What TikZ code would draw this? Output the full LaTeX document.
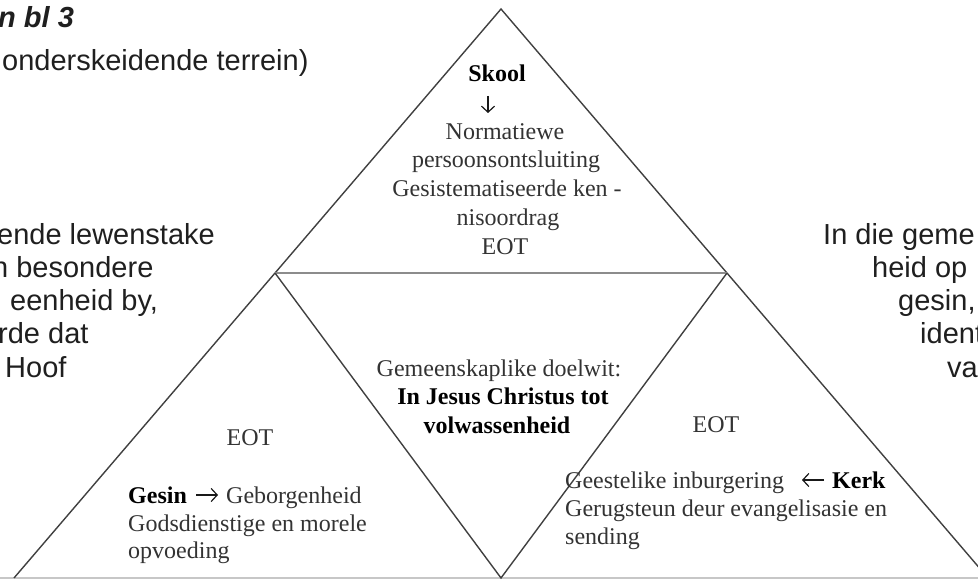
\documentclass[tikz,border=0pt]{standalone}
\usepackage{fontspec}
\usetikzlibrary{arrows.meta}
\newfontfamily\sansf{Liberation Sans}
\newfontfamily\serf{Liberation Serif}
\begin{document}
\begin{tikzpicture}[x=1pt,y=-1pt,
  edge/.style={draw=black!75, line width=1.4pt},
  midl/.style={draw=black!45, line width=1.8pt},
  baseln/.style={draw=black!22, line width=2pt},
  sans/.style={font=\sansf\fontsize{29}{34}\selectfont, text=black!88, inner sep=0pt, anchor=base west},
  ser/.style={font=\serf\fontsize{24}{28}\selectfont, text=black!80, inner sep=0pt, anchor=base},
  serl/.style={ser, anchor=base west},
  serb/.style={font=\serf\bfseries\fontsize{24}{28}\selectfont, text=black},
  txtarrow/.style={draw=black!90, line width=1.2pt, -{Straight Barb[length=6pt,width=13pt]}}]

\useasboundingbox (0,0) rectangle (978,580);
\clip (0,0) rectangle (978,580);

% triangle geometry
\coordinate (A) at (501,9);
\coordinate (L) at (275,273);
\coordinate (R) at (727,273);
\coordinate (BL) at (14,578);
\coordinate (BR) at (988,578);
\coordinate (M) at (501,578);
\coordinate (B0) at (0,578);
\coordinate (B1) at (978,578);

\draw[baseln] (B0) -- (B1);
\draw[edge, line join=miter] (BL) -- (A) -- (BR);
\draw[midl] (L) -- (R);
\draw[edge, line join=miter] (L) -- (M) -- (R);

% heading (cut at left edge)
\node[sans, font=\sansf\bfseries\itshape\fontsize{29}{34}\selectfont] (h1) at (-2,28) {n bl 3};
\node[sans] (h2) at (2,71) {onderskeidende terrein)};

% left text block (cut at left edge)
\node[sans] (l1) at (-3,245) {ende lewenstake};
\node[sans] (l2) at (-8,278) {n besondere};
\node[sans] (l3) at (10,311) {eenheid by,};
\node[sans] (l4) at (-2,344) {rde dat};
\node[sans] (l5) at (5,377) {Hoof};

% right text block (cut at right edge)
\node[sans] (r1) at (823,245) {In die geme};
\node[sans] (r2) at (872,278) {heid op};
\node[sans] (r3) at (898,311) {gesin,};
\node[sans] (r4) at (920,344) {ident};
\node[sans] (r5) at (947,377) {va};

% top triangle
\node[ser, serb] (skool) at (497,82) {Skool};
\coordinate (d0) at (488,96);
\coordinate (d1) at (488,113);
\draw[txtarrow] (d0) -- (d1);
\node[ser] (t1) at (505,140) {Normatiewe};
\node[ser] (t2) at (506,168) {persoonsontsluiting};
\node[ser] (t3) at (507,197) {Gesistematiseerde ken -};
\node[ser] (t4) at (508,226) {nisoordrag};
\node[ser] (t5) at (505,255) {EOT};

% middle triangle
\node[ser] (m1) at (499,376) {Gemeenskaplike doelwit:};
\node[ser, serb] (m2) at (503,404) {In Jesus Christus tot};
\node[ser, serb] (m3) at (497,433) {volwassenheid};

% left bottom triangle
\node[ser] (g0) at (250,445) {EOT};
\node[serl, serb] (g1) at (128,503) {Gesin};
\coordinate (ga) at (196,495);
\coordinate (gb) at (218,495);
\draw[txtarrow] (ga) -- (gb);
\node[serl] (g1b) at (226,503) {Geborgenheid};
\node[serl] (g2) at (128,531) {Godsdienstige en morele};
\node[serl] (g3) at (128,558) {opvoeding};

% right bottom triangle
\node[ser] (k0) at (716,432) {EOT};
\node[serl] (k1) at (565,488) {Geestelike inburgering};
\coordinate (ka) at (824,480);
\coordinate (kb) at (802,480);
\draw[txtarrow] (ka) -- (kb);
\node[serl, serb] (k1b) at (832,488) {Kerk};
\node[serl] (k2) at (565,516) {Gerugsteun deur evangelisasie en};
\node[serl] (k3) at (565,544) {sending};
\end{tikzpicture}
\end{document}
